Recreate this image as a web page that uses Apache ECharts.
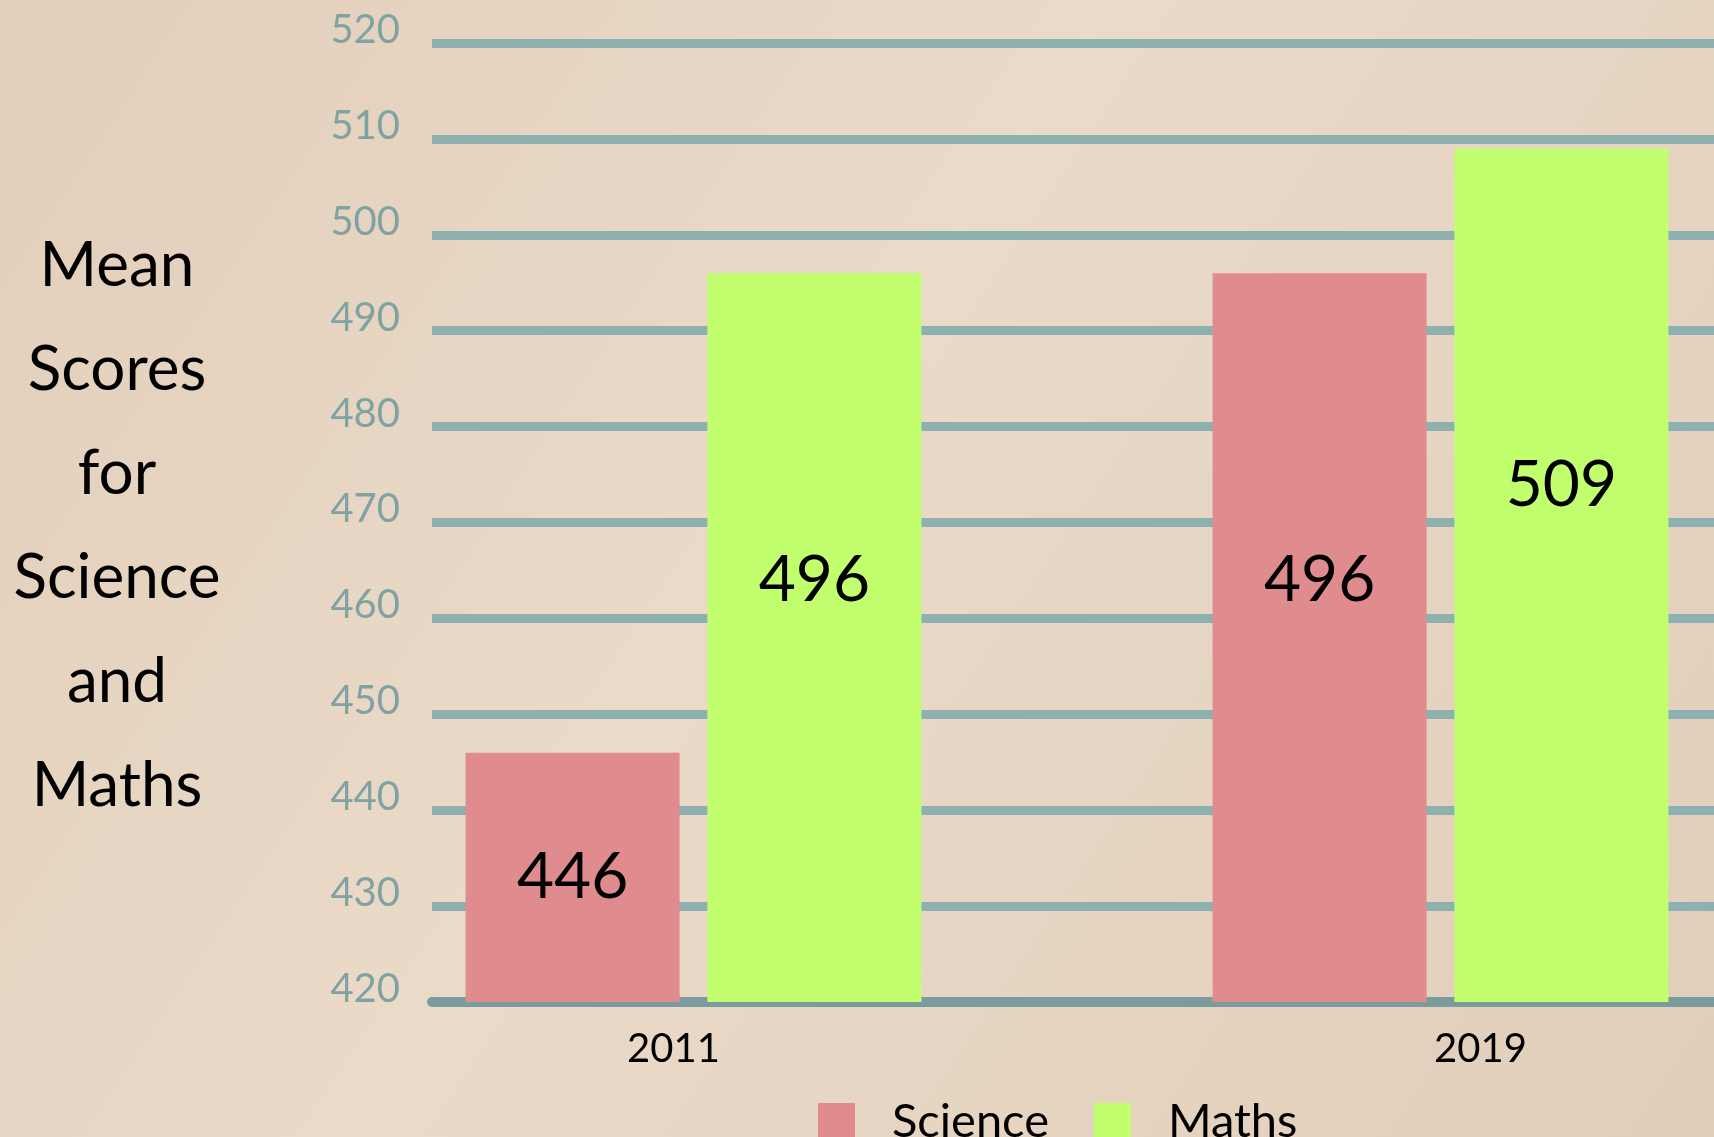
<!DOCTYPE html>
<html>
<head>
<meta charset="utf-8">
<script src="https://cdn.jsdelivr.net/npm/echarts@6/dist/echarts.min.js"></script>
<style>
html,body{margin:0;padding:0;}
#chart{width:1714px;height:1137px;}
</style>
</head>
<body>
<div id="chart"></div>
<script>
const categories = ['2011', '2019'];
const scienceValues = [446, 496];
const mathsValues = [496, 509];
const seriesNames = ['Science', 'Maths'];
const yTitleLines = ['Mean', 'Scores', 'for', 'Science', 'and', 'Maths'];
const yMin = 420, yMax = 520, yStep = 10;

const chart = echarts.init(document.getElementById('chart'));
const fontFam = 'Lato, "Noto Sans", sans-serif';
const labelOffsets = {Science: [[0, 0], [0, -57]], Maths: [[0, -57], [0, -90]]};
const catLabelStyles = ['l', 'r'];

function buildData(name, values) {
  return values.map((v, i) => ({
    value: v,
    label: {offset: labelOffsets[name][i]}
  }));
}

const option = {
  backgroundColor: {
    type: 'linear', x: 0, y: 0, x2: 1, y2: 1,
    colorStops: [
      {offset: 0, color: '#e2cfba'},
      {offset: 0.45, color: '#eadac8'},
      {offset: 1, color: '#e1ceb9'}
    ]
  },
  animation: false,
  textStyle: {fontFamily: fontFam},
  graphic: [{
    type: 'text',
    x: 117,
    y: 214,
    style: {
      text: yTitleLines.join('\n'),
      textAlign: 'center',
      textVerticalAlign: 'top',
      font: '62px ' + fontFam,
      lineHeight: 104,
      fill: '#000000'
    }
  }],
  legend: {
    data: seriesNames,
    left: 813,
    top: 1093,
    itemWidth: 37,
    itemHeight: 37,
    itemGap: 45,
    icon: 'rect',
    textStyle: {fontSize: 47, color: '#000', fontFamily: fontFam, padding: [0, 0, 0, 32]}
  },
  grid: [
    {left: 432, right: 0, top: 43, bottom: 135, outerBoundsMode: 'none'},
    {left: 320, width: 1494, top: 43, bottom: 135, outerBoundsMode: 'none'}
  ],
  xAxis: [
    {
      type: 'category', gridIndex: 0, data: categories,
      axisLine: {show: true, lineStyle: {color: '#7b9c9e', width: 10}},
      axisTick: {show: false}, axisLabel: {show: false}, splitLine: {show: false}
    },
    {
      type: 'category', gridIndex: 1, data: categories,
      axisLine: {show: false}, axisTick: {show: false},
      axisLabel: {
        margin: 27,
        formatter: (v, i) => '{' + catLabelStyles[i] + '|' + v + '}',
        rich: {
          l: {fontSize: 40, color: '#000', fontFamily: fontFam, padding: [0, 40, 0, 0]},
          r: {fontSize: 40, color: '#000', fontFamily: fontFam, padding: [0, 0, 0, 80]}
        }
      }
    }
  ],
  yAxis: [
    {
      type: 'value', gridIndex: 0, min: yMin, max: yMax, interval: yStep,
      axisLine: {show: false}, axisTick: {show: false},
      axisLabel: {fontSize: 40, color: '#7fa3a3', margin: 32, fontFamily: fontFam,
                  verticalAlign: 'bottom', lineHeight: 26},
      splitLine: {show: true, lineStyle: {color: '#8fb0b1', width: 9}}
    },
    {
      type: 'value', gridIndex: 1, min: yMin, max: yMax, interval: yStep,
      show: false, splitLine: {show: false}
    }
  ],
  series: [
    {
      name: 'Science', type: 'bar', xAxisIndex: 1, yAxisIndex: 1,
      data: buildData('Science', scienceValues),
      barWidth: 214, barGap: '13%',
      itemStyle: {color: '#e08c8f'},
      label: {show: true, position: 'inside', fontSize: 64, color: '#000', fontFamily: fontFam}
    },
    {
      name: 'Maths', type: 'bar', xAxisIndex: 1, yAxisIndex: 1,
      data: buildData('Maths', mathsValues),
      barWidth: 214, barGap: '13%',
      itemStyle: {color: '#c1ff6e'},
      label: {show: true, position: 'inside', fontSize: 64, color: '#000', fontFamily: fontFam}
    }
  ]
};
chart.setOption(option);
</script>
</body>
</html>
